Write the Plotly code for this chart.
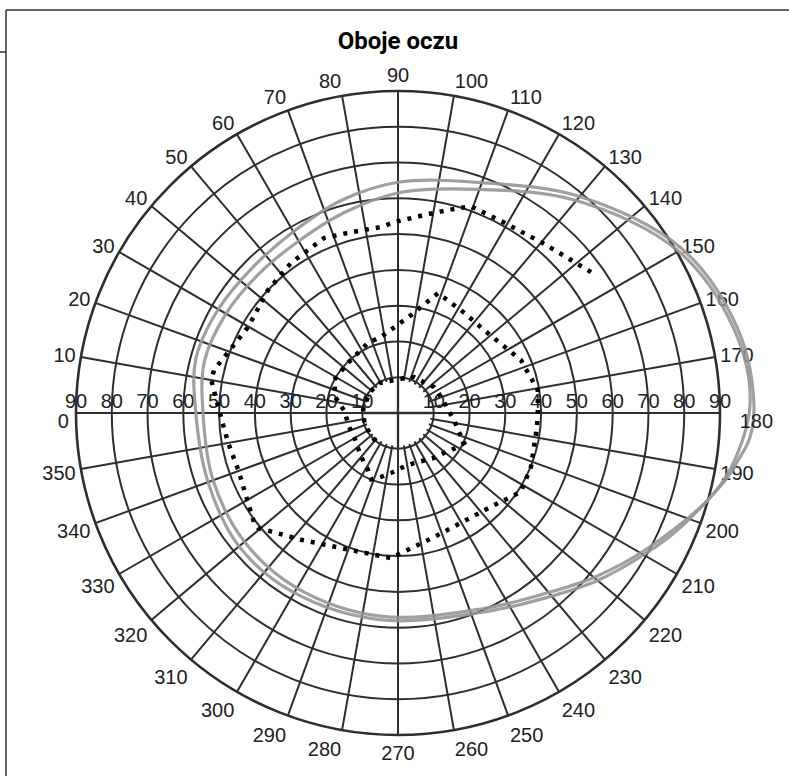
import plotly.graph_objects as go

# ---------------- data ----------------
ring_values = [10, 20, 30, 40, 50, 60, 70, 80, 90]
meridian_values = list(range(0, 360, 10))
# 0 and 180 are written separately, just below the horizontal meridian
meridian_labels = ["" if v in (0, 180) else str(v) for v in meridian_values]
end_label_theta = [0, 180]
end_label_r = [92, 95.5]
end_label_text = ["0", "180"]
end_label_pos = ["bottom left", "bottom right"]

# two grey isopters (degrees of eccentricity along each meridian)
iso_a_theta = [0, 15, 30, 45, 60, 75, 90, 110, 130, 150, 166, 178, 184, 188, 191,
               202, 209, 220, 231, 247, 275, 300, 320, 340, 360]
iso_a_r = [56.5, 58.5, 58.0, 57.5, 58.5, 61.5, 64.5, 68.5, 79.0, 91.7, 97.8, 99.5, 98.6, 95.9, 93.9,
           85.2, 80.0, 72.8, 66.3, 60.5, 58.0, 58.0, 58.0, 56.5, 56.5]

iso_b_theta = [0, 15, 30, 45, 60, 75, 90, 110, 130, 150, 166, 178, 188, 195,
               209, 220, 231, 247, 275, 300, 320, 340, 360]
iso_b_r = [54.5, 56.0, 55.5, 55.0, 55.5, 58.0, 61.5, 66.5, 77.5, 90.5, 96.8, 98.5, 95.0, 90.5,
           79.0, 71.5, 65.0, 59.5, 57.0, 56.5, 56.0, 55.0, 54.5]

# measured field (dotted line)
field_theta = [143.9, 136.2, 130.5, 118.8, 109.4, 103.8, 97.5, 89.1, 84.8, 75.4, 67.1, 61.1,
               54.5, 43.4, 29.8, 13.2, 10.0, 358.7, 350.0, 340.4, 322.6, 320.6, 307.4, 288.9,
               272.8, 256.7, 246.9, 225.3, 212.7, 202.1, 188.2, 181.6, 170.7, 156.7, 138.4,
               121.5, 108.4, 97.6, 77.4, 66.8, 45.0, 27.3, 14.0, 2.0, 344.0, 331.0, 310.0,
               297.8, 292.0, 284.9, 276.7, 266.9, 252.3, 231.3, 221.0, 209.5, 204.4, 195.8,
               187.0, 176.6, 166.6, 152.3, 144.2, 114.0, 98.6, 59.0, 36.5, 5.0, 343.0, 321.6,
               304.6]
field_r = [66.8, 63.8, 62.4, 60.9, 61.3, 58.4, 55.8, 53.4, 52.2, 52.2, 53.1, 52.0,
           51.5, 50.0, 48.3, 52.8, 53.0, 49.5, 48.2, 47.4, 50.6, 50.6, 44.6, 40.5,
           40.6, 36.5, 35.5, 36.9, 40.8, 40.1, 39.0, 39.1, 39.6, 37.4, 33.6,
           33.7, 35.3, 27.6, 21.8, 21.3, 19.8, 20.1, 18.0, 15.0, 14.2, 14.0, 16.0,
           18.0, 20.0, 18.5, 16.9, 15.4, 14.7, 16.1, 17.0, 19.3, 20.3, 17.4,
           15.8, 14.0, 13.2, 12.6, 12.4, 11.0, 9.8, 9.8, 9.8, 9.8, 9.8, 9.8,
           10.2]

# ---------------- geometry of the chart ----------------
W, H = 789, 776
CX, CY = 398, 413          # centre of the chart, px from left / top
R90 = 322                  # radius of the 90 ring, px
HOLE = 9.2                 # blank centre disc, in degrees
PX_PER_DEG = R90 / 90.0
R_OUT = min(CX, W - CX, H - CY, CY)          # overlay radius
R_OUT_DEG = R_OUT / PX_PER_DEG


def domain(radius):
    return dict(x=[(CX - radius) / W, (CX + radius) / W],
                y=[1 - (CY + radius) / H, 1 - (CY - radius) / H])


GRID = "#2e2e2e"
GRID_W = 2.3
LABEL_FONT = dict(family="Liberation Sans, Arial, sans-serif", size=20, color="#222222")

fig = go.Figure()

# blank disc in the middle of the grid
disc_theta = list(range(0, 361, 10))
fig.add_trace(go.Scatterpolar(
    theta=disc_theta, r=[HOLE] * len(disc_theta), mode="lines", fill="toself",
    fillcolor="white", line=dict(color="white", width=0),
    hoverinfo="skip", showlegend=False, subplot="polar"))

# radial scale labels along the horizontal meridian (both sides)
fig.add_trace(go.Scatterpolar(
    theta=[0] * len(ring_values) + [180] * len(ring_values),
    r=ring_values + ring_values,
    text=[str(v) for v in ring_values] * 2,
    mode="text", textposition="top center",
    textfont=LABEL_FONT, hoverinfo="skip", showlegend=False,
    subplot="polar",
))

# horizontal and vertical meridians through the centre disc
fig.add_trace(go.Scatterpolar(
    theta=[0, 180], r=[HOLE + 0.5, HOLE + 0.5], mode="lines",
    line=dict(color=GRID, width=GRID_W), hoverinfo="skip", showlegend=False, subplot="polar2"))
fig.add_trace(go.Scatterpolar(
    theta=[90, 270], r=[HOLE + 0.5, HOLE + 0.5], mode="lines",
    line=dict(color=GRID, width=GRID_W), hoverinfo="skip", showlegend=False, subplot="polar2"))

# grey isopters
for th, rr in ((iso_a_theta, iso_a_r), (iso_b_theta, iso_b_r)):
    fig.add_trace(go.Scatterpolar(
        theta=th, r=rr, mode="lines",
        line=dict(color="rgba(150,150,150,0.9)", width=3.2, shape="spline", smoothing=1),
        hoverinfo="skip", showlegend=False, subplot="polar2"))

# measured field, dotted
fig.add_trace(go.Scatterpolar(
    theta=field_theta, r=field_r, mode="lines",
    line=dict(color="#000000", width=4.5, dash="4px,7px"),
    hoverinfo="skip", showlegend=False, subplot="polar2"))

# meridian labels 0 and 180
fig.add_trace(go.Scatterpolar(
    theta=end_label_theta, r=end_label_r, text=end_label_text,
    mode="text", textposition=end_label_pos, textfont=LABEL_FONT,
    cliponaxis=False, hoverinfo="skip", showlegend=False, subplot="polar2"))

fig.update_layout(
    width=W, height=H,
    margin=dict(l=0, r=0, t=0, b=0),
    paper_bgcolor="white",
    showlegend=False,
    title=dict(text="<b>Oboje oczu</b>", x=CX / W, xanchor="center",
               y=1 - 41 / H, yanchor="middle",
               font=dict(family="Roboto, Liberation Sans, sans-serif",
                         size=24, color="#000000")),
    polar=dict(
        domain=domain(R90),
        bgcolor="white",
        radialaxis=dict(range=[0, 90], dtick=10, tick0=0, showticklabels=False,
                        ticks="", showline=False, gridcolor=GRID, gridwidth=GRID_W),
        angularaxis=dict(rotation=180, direction="clockwise",
                         tickmode="array", tickvals=meridian_values, ticktext=meridian_labels,
                         ticksuffix="", ticks="",
                         showline=True, linecolor=GRID, linewidth=2.6,
                         gridcolor=GRID, gridwidth=GRID_W, tickfont=LABEL_FONT),
    ),
    polar2=dict(
        domain=domain(R_OUT),
        bgcolor="rgba(0,0,0,0)",
        radialaxis=dict(range=[0, R_OUT_DEG], visible=False, showgrid=False,
                        showline=False, showticklabels=False, ticks=""),
        angularaxis=dict(rotation=180, direction="clockwise", visible=False,
                         showgrid=False, showline=False, showticklabels=False, ticks=""),
    ),
    shapes=[
        dict(type="line", xref="paper", yref="paper", x0=6 / W, x1=1, y0=1 - 10 / H, y1=1 - 10 / H,
             line=dict(color="#333333", width=1.5)),
        dict(type="line", xref="paper", yref="paper", x0=6 / W, x1=6 / W, y0=1 - 10 / H, y1=0,
             line=dict(color="#333333", width=1.5)),
        dict(type="line", xref="paper", yref="paper", x0=0, x1=6 / W, y0=1 - 52 / H, y1=1 - 52 / H,
             line=dict(color="#333333", width=1.5)),
    ],
)

fig.write_html("out.html")
